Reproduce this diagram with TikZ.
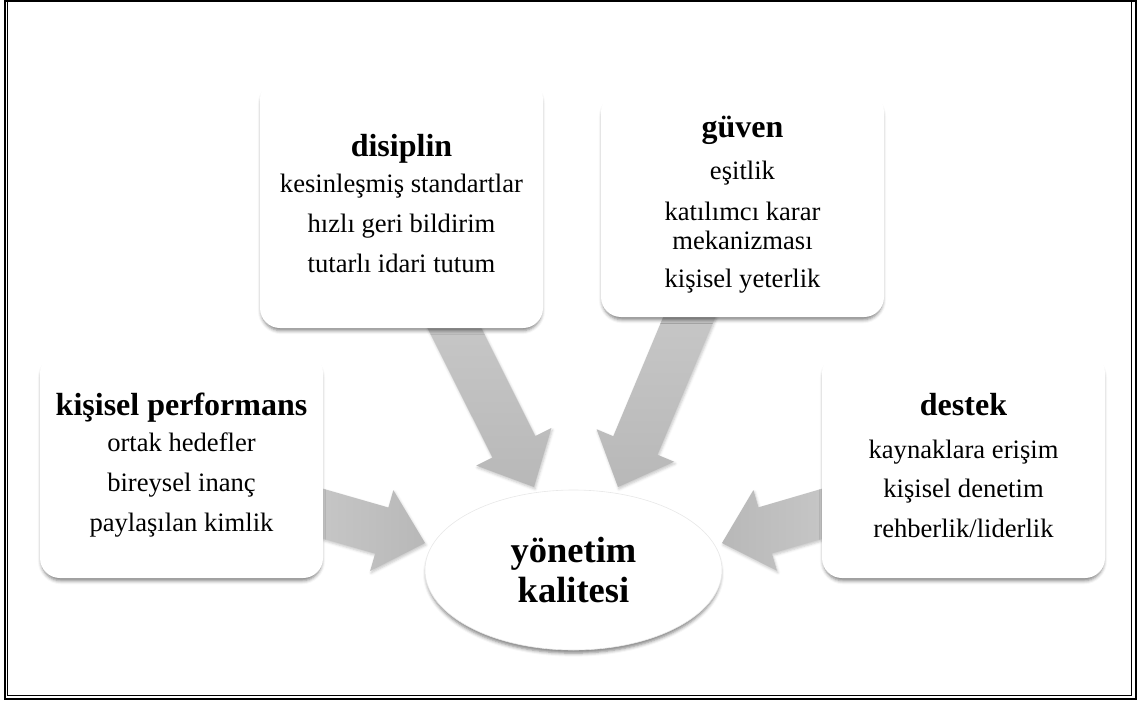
\documentclass[tikz,border=0pt]{standalone}
\usepackage{fontspec}
\setmainfont{Liberation Serif}
\usetikzlibrary{calc,shapes.geometric,shadows.blur}

\pgfdeclarelayer{back}
\pgfsetlayers{back,main}

\definecolor{arrowtail}{RGB}{200,200,200}
\definecolor{arrowhead}{RGB}{184,184,184}
\definecolor{rimgray}{RGB}{232,232,232}

\newcommand\bodysize{\fontsize{26.6}{40}\selectfont}
\newcommand\headsize{\fontsize{32}{40}\selectfont\bfseries}

\tikzset{
  softshadow/.style={blur shadow={shadow xshift=0pt, shadow yshift=-4pt,
      shadow scale=0.99, shadow blur radius=3.5pt, shadow opacity=50}},
  card/.style={fill=white, rounded corners=20pt, minimum width=283pt,
    align=center, inner sep=0pt, font=\bodysize, softshadow},
  hub/.style={ellipse, fill=white, draw=rimgray, line width=0.6pt,
    minimum width=297pt, minimum height=160pt,
    inner sep=0pt, align=center, font=\fontsize{36.5}{40}\selectfont\bfseries,
    softshadow},
  flow/.style={blur shadow={shadow xshift=1pt, shadow yshift=-2pt,
      shadow blur radius=2.5pt, shadow opacity=22}},
  frameouter/.style={line width=2.2pt},
  frameinner/.style={line width=1pt}
}

% broad block arrow from tail #2 to tip #3
\newcommand\blockarrow[3][]{%
  \coordinate (ab) at ($(#3)!45pt!(#2)$);
  \path[flow,#1]
    ($(#2)!24pt!90:(#3)$) -- ($(ab)!24pt!90:(#3)$) -- ($(ab)!42pt!90:(#3)$)
    -- (#3)
    -- ($(ab)!42pt!-90:(#3)$) -- ($(ab)!24pt!-90:(#3)$) -- ($(#2)!24pt!-90:(#3)$)
    -- cycle;
}

\begin{document}
\begin{tikzpicture}[x=1pt, y=-1pt]
\useasboundingbox (0,0) rectangle (1141,701);

% double frame
\draw[frameouter] (4.9,0.9) rectangle (1136.3,698.8);
\draw[frameinner] (7.7,-2) -- (7.7,695.2) -- (1131.7,695.2) -- (1131.7,-2);

% boxes
\node[card, minimum height=249pt] (dis) at (401.5,203.5)
  {{\headsize disiplin}\\[-4pt]
   kesinleşmiş standartlar\\
   hızlı geri bildirim\\
   tutarlı idari tutum};

\node[card, minimum height=225pt] (guv) at (742.5,204.5)
  {{\headsize güven}\\[2pt]
   eşitlik\\[1pt]
   katılımcı karar\\[-11pt]
   mekanizması\\[-2pt]
   kişisel yeterlik};

\node[card, minimum height=225pt] (kp) at (181.5,465.5)
  {{\headsize kişisel performans}\\[-4pt]
   ortak hedefler\\
   bireysel inanç\\
   paylaşılan kimlik};

\node[card, minimum height=225pt] (des) at (963.5,465.5)
  {{\headsize destek}\\[3pt]
   kaynaklara erişim\\[-1pt]
   kişisel denetim\\
   rehberlik/liderlik};

\node[hub] (hub) at (573.5,570) {yönetim\\kalitesi};

% arrow ends
\coordinate (s1) at ($(dis.south)+(46.5,-13)$);
\coordinate (s2) at ($(guv.south)+(-47.5,-14)$);
\coordinate (s3) at ($(kp.east)+(-13,44.5)$);
\coordinate (s4) at ($(des.west)+(13,44.5)$);
\coordinate (t1) at ($(hub)+(-39.5,-83)$);
\coordinate (t2) at ($(hub)+(44.5,-83)$);
\coordinate (t3) at ($(hub)+(-148.5,-27)$);
\coordinate (t4) at ($(hub)+(148.5,-27)$);

\begin{pgfonlayer}{back}
  \blockarrow[top color=arrowtail, bottom color=arrowhead]{s1}{t1}
  \blockarrow[top color=arrowtail, bottom color=arrowhead]{s2}{t2}
  \blockarrow[left color=arrowtail, right color=arrowhead]{s3}{t3}
  \blockarrow[left color=arrowhead, right color=arrowtail]{s4}{t4}
\end{pgfonlayer}
\end{tikzpicture}
\end{document}
